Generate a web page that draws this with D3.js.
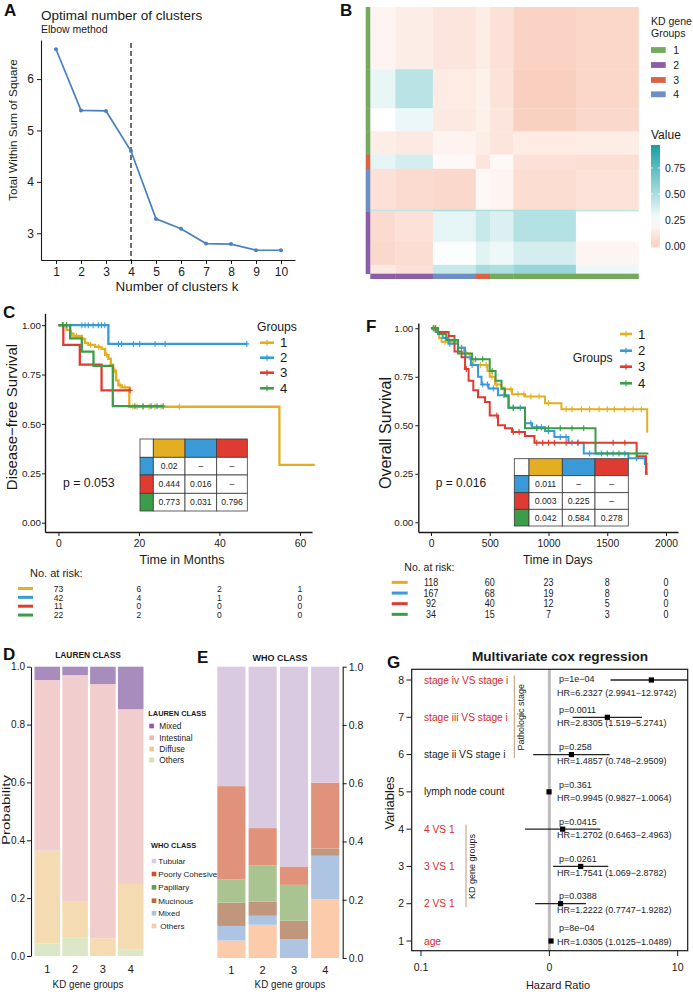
<!DOCTYPE html>
<html>
<head>
<meta charset="utf-8">
<script src="https://cdn.jsdelivr.net/npm/d3@7"></script>
<style>
  body { margin: 0; background: #fff; }
  svg { display: block; font-family: "Liberation Sans", Arial, Helvetica, sans-serif; }
</style>
</head>
<body>
<svg id="fig" width="693" height="992"></svg>
<script>
var INK = '#1a1a1a';

// ---------- A: elbow plot
var kValues = [1, 2, 3, 4, 5, 6, 7, 8, 9, 10];
var wssValues = [6.58, 5.39, 5.38, 4.60, 3.28, 3.09, 2.80, 2.79, 2.67, 2.67];
var bestK = 4;

// ---------- B: consensus heatmap (block means)
var groupNames = ['1', '2', '3', '4'];
var groupColors = ['#74a95f', '#8d5ea8', '#d96444', '#6f8ec4'];
var colGroups = ['2', '2', '4', '3', '1', '1', '1'];
var colSizes = [14, 21, 24, 8, 13, 35, 35];
var rowGroups = ['1', '1', '1', '1', '3', '4', '4', '2', '2', '2'];
var rowSizes = [35, 22, 13, 13, 8, 23, 1, 17, 13, 5];
var blockValues = [
  [0.20, 0.16, 0.12, 0.16, 0.10, 0.03, 0.05],
  [0.32, 0.46, 0.15, 0.18, 0.11, 0.01, 0.05],
  [0.25, 0.31, 0.14, 0.18, 0.12, 0.02, 0.06],
  [0.16, 0.14, 0.19, 0.16, 0.12, 0.15, 0.16],
  [0.33, 0.38, 0.22, 0.12, 0.22, 0.10, 0.09],
  [0.10, 0.07, 0.06, 0.22, 0.20, 0.08, 0.11],
  [0.45, 0.45, 0.50, 0.50, 0.50, 0.50, 0.45],
  [0.07, 0.10, 0.33, 0.42, 0.36, 0.48, 0.25],
  [0.06, 0.08, 0.26, 0.34, 0.30, 0.38, 0.20],
  [0.14, 0.10, 0.42, 0.52, 0.50, 0.56, 0.30]
];
var valueTicks = [0, 0.25, 0.5, 0.75];

// ---------- C: disease-free survival
var survColors = ['#e4ae22', '#3a9ad8', '#e03b31', '#3b9d49'];
var dfsSteps = [
  [[0, 1], [2.0, 0.975], [2.9, 0.958], [3.7, 0.945], [5.8, 0.93], [6.6, 0.91], [7.4, 0.90], [9.1, 0.89], [10.7, 0.88], [11.6, 0.85], [12.4, 0.83], [13.0, 0.80], [13.6, 0.77], [14.3, 0.72], [14.9, 0.695], [15.7, 0.685], [17.6, 0.587], [54.9, 0.293]],
  [[0, 1], [12.4, 0.905]],
  [[0, 1], [1.2, 0.90], [5.3, 0.80], [10.7, 0.67]],
  [[0, 1], [2.9, 0.933], [5.8, 0.866], [8.7, 0.794], [13.5, 0.59]]
];
var dfsEnd = [63.7, 46.8, 17.8, 26];
var dfsCensor = [
  [1, 3.2, 4.5, 8, 10, 12, 14, 15.3, 16.5, 18.5, 19.5, 21, 22.5, 24, 25.5, 30],
  [1.2, 2, 5.8, 6.6, 7.4, 8.6, 9.9, 10.7, 11.5, 14.9, 15.7, 18.6, 20.2, 24, 26.5, 46.8],
  [17.8],
  [1, 2, 19, 21, 23, 24.5, 26]
];
var dfsTicks = [0, 20, 40, 60];
var dfsP = 'p = 0.053';
var dfsPairs = [['0.02', '\u2013', '\u2013'], ['0.444', '0.016', '\u2013'], ['0.773', '0.031', '0.796']];
var dfsRisk = [[73, 6, 2, 1], [42, 4, 1, 0], [11, 0, 0, 0], [22, 2, 0, 0]];

// ---------- F: overall survival
var osSteps = [
  [[0, 1], [40, 0.98], [70, 0.95], [90, 0.93], [230, 0.90], [280, 0.87], [330, 0.84], [360, 0.81], [480, 0.78], [500, 0.75], [545, 0.71], [600, 0.685], [690, 0.66], [800, 0.648], [970, 0.613], [1110, 0.582], [1840, 0.467]],
  [[0, 1], [40, 0.98], [100, 0.95], [150, 0.92], [230, 0.90], [290, 0.85], [340, 0.81], [400, 0.75], [430, 0.71], [490, 0.69], [570, 0.655], [660, 0.59], [800, 0.51], [860, 0.49], [970, 0.47], [1050, 0.44], [1170, 0.41], [1300, 0.355], [1680, 0.33], [1820, 0.30], [1835, 0.25]],
  [[0, 1], [60, 0.98], [150, 0.96], [200, 0.88], [260, 0.85], [290, 0.79], [320, 0.73], [360, 0.68], [400, 0.645], [460, 0.62], [500, 0.55], [570, 0.50], [630, 0.485], [690, 0.465], [800, 0.445], [880, 0.41], [1750, 0.34], [1830, 0.25]],
  [[0, 1], [60, 0.97], [130, 0.94], [230, 0.87], [350, 0.84], [500, 0.78], [550, 0.73], [600, 0.69], [630, 0.65], [660, 0.59], [800, 0.485], [1400, 0.355]]
];
var osEnd = [1845, 1845, 1840, 1850];
var osCensor = [
  [30, 120, 200, 300, 420, 470, 520, 560, 620, 680, 740, 790, 850, 920, 1000, 1150, 1200, 1280, 1350, 1430, 1500, 1560, 1650, 1720, 1790],
  [20, 160, 260, 350, 440, 480, 530, 620, 700, 760, 850, 900, 940, 1000, 1100, 1150, 1200, 1250, 1350, 1450, 1550, 1650, 1750],
  [40, 300, 560, 700, 750, 900, 950, 1000, 1050, 1150, 1250, 1400, 1550, 1650],
  [20, 200, 380, 440, 520, 700, 900, 1000, 1100, 1200, 1300, 1500, 1600, 1750]
];
var osTicks = [0, 500, 1000, 1500, 2000];
var osP = 'p = 0.016';
var osPairs = [['0.011', '\u2013', '\u2013'], ['0.003', '0.225', '\u2013'], ['0.042', '0.584', '0.278']];
var osRisk = [[118, 60, 23, 8, 0], [167, 68, 19, 8, 0], [92, 40, 12, 5, 0], [34, 15, 7, 3, 0]];

// ---------- D: Lauren class proportions (bottom to top)
var laurenClasses = ['Others', 'Diffuse', 'Intestinal', 'Mixed'];
var laurenOthers = [0.044, 0.063, 0.000, 0.023];
var laurenDiffuse = [0.320, 0.127, 0.061, 0.226];
var laurenIntestinal = [0.590, 0.781, 0.879, 0.604];
var laurenMixed = [0.046, 0.029, 0.060, 0.147];

// ---------- E: WHO class proportions (bottom to top)
var whoClasses = ['Others', 'Mixed', 'Mucinous', 'Papillary', 'Poorly Cohesive', 'Tubular'];
var whoOthers = [0.060, 0.114, 0.000, 0.202];
var whoMixed = [0.050, 0.031, 0.065, 0.149];
var whoMucinous = [0.080, 0.048, 0.063, 0.025];
var whoPapillary = [0.080, 0.125, 0.123, 0.000];
var whoPoorly = [0.320, 0.128, 0.063, 0.226];
var whoTubular = [0.410, 0.554, 0.686, 0.398];

// ---------- G: multivariate cox
var coxLabels = ['age', '2 VS 1', '3 VS 1', '4 VS 1', 'lymph node count', 'stage ii VS stage i', 'stage iii VS stage i', 'stage iv VS stage i'];
var coxHR = [1.0305, 1.2222, 1.7541, 1.2702, 0.9945, 1.4857, 2.8305, 6.2327];
var coxLow = [1.0125, 0.7747, 1.069, 0.6463, 0.9827, 0.748, 1.519, 2.9941];
var coxHigh = [1.0489, 1.9282, 2.8782, 2.4963, 1.0064, 2.9509, 5.2741, 12.9742];
var coxP = [0.0008, 0.0388, 0.0261, 0.0415, 0.361, 0.258, 0.0011, 0.0001];
var coxPText = ['8e\u221204', '0.0388', '0.0261', '0.0415', '0.361', '0.258', '0.0011', '1e\u221204'];
var coxBlocks = [{ name: 'KD gene groups', from: 2, to: 4 }, { name: 'Pathologic stage', from: 6, to: 8 }];

// ================= helpers
var svg = d3.select('#fig');

function txt(g, x, y, s, o) {
  o = o || {};
  var t = g.append('text')
    .attr('font-size', o.size || 10)
    .attr('fill', o.fill || INK)
    .attr('text-anchor', o.anchor || 'start')
    .text(s);
  if (o.bold) t.attr('font-weight', 'bold');
  var tr = 'translate(' + x + ',' + y + ')';
  if (o.rot) tr += ' rotate(-90)';
  if (o.sx || o.sy) tr += ' scale(' + (o.sx || 1) + ',' + (o.sy || 1) + ')';
  t.attr('transform', tr);
  return t;
}

function styleAxis(a, size) {
  a.attr('font-family', null).attr('font-size', size);
  a.select('.domain').attr('stroke', INK).attr('stroke-width', 1.1);
  a.selectAll('.tick line').attr('stroke', INK);
  a.selectAll('.tick text').attr('fill', INK);
}

function survAt(steps, t) {
  var s = steps[0][1];
  steps.forEach(function (p) { if (p[0] <= t) s = p[1]; });
  return s;
}

function plus(g, x, y, col, w) {
  g.append('path')
    .attr('d', 'M' + x + ',' + (y - 3) + 'V' + (y + 3) + 'M' + (x - 2.5) + ',' + y + 'H' + (x + 2.5))
    .attr('stroke', col).attr('stroke-width', w || 1.1).attr('fill', 'none');
}

function letter(x, y, s) {
  txt(svg, x, y, s, { size: 17, bold: true, fill: '#111' });
}

// ================= A
(function () {
  var g = svg.append('g');
  var x = d3.scaleLinear().domain([0.4, 10.56]).range([41, 295]);
  var y = d3.scaleLinear().domain([2.48, 6.76]).range([260, 40]);
  g.append('g').attr('transform', 'translate(0,260)')
    .call(d3.axisBottom(x).tickValues(kValues).tickFormat(d3.format('d')).tickSize(4).tickPadding(3).tickSizeOuter(0))
    .call(styleAxis, 12);
  g.append('g').attr('transform', 'translate(41,0)')
    .call(d3.axisLeft(y).tickValues([3, 4, 5, 6]).tickFormat(d3.format('d')).tickSize(4).tickPadding(3).tickSizeOuter(0))
    .call(styleAxis, 12);
  g.append('line').attr('x1', x(bestK)).attr('x2', x(bestK)).attr('y1', 43).attr('y2', 260)
    .attr('stroke', '#222').attr('stroke-width', 1.3).attr('stroke-dasharray', '5,3');
  var line = d3.line().x(function (d, i) { return x(kValues[i]); }).y(function (d) { return y(d); });
  g.append('path').attr('d', line(wssValues)).attr('fill', 'none').attr('stroke', '#4a80bf').attr('stroke-width', 1.7);
  g.selectAll('circle').data(wssValues).enter().append('circle')
    .attr('cx', function (d, i) { return x(kValues[i]); }).attr('cy', function (d) { return y(d); })
    .attr('r', 2).attr('fill', '#4a80bf');
  txt(g, 41, 19.5, 'Optimal number of clusters', { size: 13.5 });
  txt(g, 41, 32.5, 'Elbow method', { size: 10.5 });
  txt(g, 16.5, 130, 'Total Within Sum of Square', { size: 11.7, rot: true, anchor: 'middle' });
  txt(g, 177, 291, 'Number of clusters k', { size: 13.4, anchor: 'middle' });
  letter(4, 16, 'A');
})();

// ================= B
(function () {
  var g = svg.append('g');
  var total = d3.sum(colSizes);
  var x = d3.scaleLinear().domain([0, total]).range([370.3, 638.5]);
  var y = d3.scaleLinear().domain([0, total]).range([7, 273.7]);
  var color = d3.scaleLinear().domain([0, 0.25, 0.97]).range(['#f9cdbc', '#ffffff', '#13a0a6']);
  var gcol = d3.scaleOrdinal().domain(groupNames).range(groupColors);
  var colStart = [0], rowStart = [0];
  colSizes.forEach(function (n, i) { colStart.push(colStart[i] + n); });
  rowSizes.forEach(function (n, i) { rowStart.push(rowStart[i] + n); });

  var cells = [];
  blockValues.forEach(function (row, i) {
    row.forEach(function (v, j) { cells.push({ r: i, c: j, v: v }); });
  });
  g.selectAll('rect.cell').data(cells).enter().append('rect').attr('class', 'cell')
    .attr('x', function (d) { return x(colStart[d.c]); })
    .attr('y', function (d) { return y(rowStart[d.r]); })
    .attr('width', function (d) { return x(colStart[d.c + 1]) - x(colStart[d.c]) + 0.3; })
    .attr('height', function (d) { return y(rowStart[d.r + 1]) - y(rowStart[d.r]) + 0.3; })
    .attr('fill', function (d) { return color(d.v); });

  // annotation bars
  rowGroups.forEach(function (gr, i) {
    g.append('rect').attr('x', 365.7).attr('width', 4.6)
      .attr('y', y(rowStart[i])).attr('height', y(rowStart[i + 1]) - y(rowStart[i]) + 0.3)
      .attr('fill', gcol(gr));
  });
  colGroups.forEach(function (gr, i) {
    g.append('rect').attr('y', 273.7).attr('height', 5.3)
      .attr('x', x(colStart[i])).attr('width', x(colStart[i + 1]) - x(colStart[i]) + 0.3)
      .attr('fill', gcol(gr));
  });

  // legend
  txt(g, 651, 25.4, 'KD gene', { size: 10.5 });
  txt(g, 651, 37, 'Groups', { size: 10.5 });
  var ky = [50, 65, 80, 94.3];
  groupNames.forEach(function (n, i) {
    g.append('rect').attr('x', 651).attr('y', ky[i] - 2.9).attr('width', 14.7).attr('height', 5.8).attr('fill', groupColors[i]);
    txt(g, 673.3, ky[i] + 3.7, n, { size: 10.5 });
  });
  txt(g, 651, 139, 'Value', { size: 12 });
  var yc = d3.scaleLinear().domain([0, 0.97]).range([246, 145]);
  var grad = svg.append('defs').append('linearGradient').attr('id', 'vgrad')
    .attr('x1', 0).attr('y1', 1).attr('x2', 0).attr('y2', 0);
  d3.range(0, 1.0001, 0.1).forEach(function (f) {
    grad.append('stop').attr('offset', f).attr('stop-color', color(f * 0.97));
  });
  g.append('rect').attr('x', 651).attr('y', yc(0.97)).attr('width', 9).attr('height', yc(0) - yc(0.97) + 1.5)
    .attr('fill', 'url(#vgrad)');
  valueTicks.forEach(function (v) {
    g.append('path').attr('d', 'M651,' + yc(v) + 'h2M658,' + yc(v) + 'h2').attr('stroke', '#fff').attr('stroke-width', 0.8);
    txt(g, 665, yc(v) + 3.7, d3.format('.2f')(v), { size: 10.5 });
  });
  letter(340, 16, 'B');
})();

// ================= KM helpers
function drawKM(g, c) {
  g.append('g').attr('transform', 'translate(' + c.x.range()[0] + ',0)')
    .call(d3.axisLeft(c.y).tickValues([0, 0.25, 0.5, 0.75, 1]).tickFormat(d3.format('.2f')).tickSize(3).tickPadding(c.ypad).tickSizeOuter(0))
    .call(styleAxis, 9.8);
  g.append('g').attr('transform', 'translate(0,' + c.y.range()[0] + ')')
    .call(d3.axisBottom(c.x).tickValues(c.ticks).tickFormat(d3.format('d')).tickSize(4).tickPadding(4).tickSizeOuter(0))
    .call(styleAxis, 10.3);
  g.selectAll('.domain').attr('stroke-width', 1.4);
  var line = d3.line().x(function (d) { return c.x(d[0]); }).y(function (d) { return c.y(d[1]); }).curve(d3.curveStepAfter);
  c.steps.forEach(function (st, i) {
    var pts = st.concat([[c.ends[i], st[st.length - 1][1]]]);
    g.append('path').attr('d', line(pts)).attr('fill', 'none')
      .attr('stroke', survColors[i]).attr('stroke-width', c.lw);
    c.censors[i].forEach(function (t) {
      plus(g, c.x(t), c.y(survAt(st, t)), survColors[i]);
    });
  });
}

function drawPairs(g, xe, ye, vals, size) {
  for (var r = 0; r < 4; r++) {
    for (var k = 0; k < 4; k++) {
      var fill = '#fff';
      if (r === 0 && k > 0) fill = survColors[k - 1];
      if (k === 0 && r > 0) fill = survColors[r];
      g.append('rect').attr('x', xe[k]).attr('y', ye[r])
        .attr('width', xe[k + 1] - xe[k]).attr('height', ye[r + 1] - ye[r])
        .attr('fill', fill).attr('stroke', '#3a3a3a').attr('stroke-width', 0.8);
      if (r > 0 && k > 0) {
        txt(g, (xe[k] + xe[k + 1]) / 2, (ye[r] + ye[r + 1]) / 2 + size * 0.36, vals[r - 1][k - 1], { size: size, anchor: 'middle' });
      }
    }
  }
}

function drawRisk(g, c) {
  txt(g, c.titleX, c.titleY, 'No. at risk:', { size: c.titleSize });
  c.rows.forEach(function (row, i) {
    var cy = c.y0 + i * c.dy;
    g.append('line').attr('x1', c.lx[0]).attr('x2', c.lx[1]).attr('y1', cy).attr('y2', cy)
      .attr('stroke', survColors[i]).attr('stroke-width', 3);
    row.forEach(function (n, j) {
      txt(g, c.x(c.ticks[j]), cy + c.size * 0.36, String(n), { size: c.size, anchor: 'middle', sx: c.sx });
    });
  });
}

function drawGroupLegend(g, c) {
  txt(g, c.titleX, c.titleY, 'Groups', { size: 12.2 });
  groupNames.forEach(function (n, i) {
    var cy = c.ys[i];
    g.append('line').attr('x1', c.lx[0]).attr('x2', c.lx[1]).attr('y1', cy).attr('y2', cy)
      .attr('stroke', survColors[i]).attr('stroke-width', 2.6);
    plus(g, (c.lx[0] + c.lx[1]) / 2, cy, survColors[i], 1.2);
    txt(g, c.nx, cy + 4.7, n, { size: 13.2 });
  });
}

// ================= C
(function () {
  var g = svg.append('g');
  var x = d3.scaleLinear().domain([-3.35, 63]).range([45, 312]);
  var y = d3.scaleLinear().domain([-0.047, 1.06]).range([532, 313.3]);
  drawKM(g, { x: x, y: y, ticks: dfsTicks, steps: dfsSteps, ends: dfsEnd, censors: dfsCensor, lw: 2.3, ypad: 1 });
  drawGroupLegend(g, { titleX: 257, titleY: 331, ys: [342.7, 357.7, 372.7, 388.3], lx: [260, 274], nx: 280 });
  txt(g, 63, 487.4, dfsP, { size: 12.3 });
  drawPairs(g, [140, 153.3, 185, 216.7, 247.3], [439, 457.3, 475, 493.3, 511], dfsPairs, 8.6);
  txt(g, 16.5, 417, 'Disease\u2212free Survival', { size: 15, rot: true, anchor: 'middle' });
  txt(g, 182, 564, 'Time in Months', { size: 12.5, anchor: 'middle' });
  drawRisk(g, { titleX: 30, titleY: 577, titleSize: 11, rows: dfsRisk, ticks: dfsTicks, x: x, y0: 588.5, dy: 8.85, lx: [18, 33], size: 9, sx: 0.95 });
  letter(3, 318, 'C');
})();

// ================= F
(function () {
  var g = svg.append('g');
  var x = d3.scaleLinear().domain([-108, 2102]).range([418.3, 678]);
  var y = d3.scaleLinear().domain([-0.05, 1.027]).range([532, 323]);
  drawKM(g, { x: x, y: y, ticks: osTicks, steps: osSteps, ends: osEnd, censors: osCensor, lw: 2, ypad: 2 });
  drawGroupLegend(g, { titleX: 572.7, titleY: 362, ys: [334, 350.7, 366.7, 383.3], lx: [620, 632], nx: 638 });
  txt(g, 435.7, 487, osP, { size: 12 });
  drawPairs(g, [514.3, 529, 562.3, 595, 628.3], [458.7, 475.7, 492.7, 509.3, 526], osPairs, 8.7);
  txt(g, 390.5, 433, 'Overall Survival', { size: 16, rot: true, anchor: 'middle' });
  txt(g, 557.7, 563.5, 'Time in Days', { size: 12, anchor: 'middle' });
  drawRisk(g, { titleX: 404.3, titleY: 571, titleSize: 10.5, rows: osRisk, ticks: osTicks, x: x, y0: 582.4, dy: 10.65, lx: [391.7, 407.7], size: 10.5, sx: 0.85 });
  letter(366, 332, 'F');
})();

// ================= D / E stacked bars
var laurenBar = { Others: '#dbe7c6', Diffuse: '#f5dbb2', Intestinal: '#f2cdcd', Mixed: '#a88cbe' };
var laurenKey = { Others: '#cfe1b0', Diffuse: '#f2c88a', Intestinal: '#f0b4b4', Mixed: '#8d5aa5' };
var whoBar = { Others: '#fcccaa', Mixed: '#adc4e2', Mucinous: '#c0977d', Papillary: '#a9c490', 'Poorly Cohesive': '#e0937a', Tubular: '#d9c9e1' };
var whoKey = { Others: '#fcc9a0', Mixed: '#a9c3e6', Mucinous: '#b36a3c', Papillary: '#59a14f', 'Poorly Cohesive': '#d6492f', Tubular: '#dccbe6' };

function drawStack(g, keys, rows, x, y, fills) {
  var series = d3.stack().keys(keys)(rows);
  series.forEach(function (s) {
    g.selectAll(null).data(s).enter().append('rect')
      .attr('x', function (d) { return x(d.data.group); })
      .attr('width', x.bandwidth())
      .attr('y', function (d) { return y(d[1]); })
      .attr('height', function (d) { return Math.max(0, y(d[0]) - y(d[1])); })
      .attr('fill', fills[s.key]);
  });
}

(function () {
  var g = svg.append('g');
  var rows = groupNames.map(function (n, i) {
    return { group: n, Others: laurenOthers[i], Diffuse: laurenDiffuse[i], Intestinal: laurenIntestinal[i], Mixed: laurenMixed[i] };
  });
  var x = d3.scaleBand().domain(groupNames).range([34.5, 143.5]).paddingInner(0.08);
  var y = d3.scaleLinear().domain([0, 1]).range([956, 666.7]);
  drawStack(g, laurenClasses, rows, x, y, laurenBar);
  g.append('g').attr('transform', 'translate(31,0)')
    .call(d3.axisLeft(y).tickValues([0, 0.2, 0.4, 0.6, 0.8, 1]).tickFormat(d3.format('.1f')).tickSize(4).tickPadding(2).tickSizeOuter(0))
    .call(styleAxis, 10);
  groupNames.forEach(function (n) {
    txt(g, x(n) + x.bandwidth() / 2, 972.5, n, { size: 11, anchor: 'middle' });
  });
  txt(g, 88, 987.5, 'KD gene groups', { size: 9.8, anchor: 'middle', sy: 1.2 });
  txt(g, 88, 658.3, 'LAUREN CLASS', { size: 8.4, anchor: 'middle', bold: true });
  txt(g, 9.6, 810, 'Probability', { size: 10, rot: true, anchor: 'middle', sx: 1.5 });

  // legends
  txt(g, 148.3, 716, 'LAUREN CLASS', { size: 7.4, bold: true });
  var ly = [726, 737.7, 749, 760];
  laurenClasses.slice().reverse().forEach(function (k, i) {
    g.append('rect').attr('x', 149.3).attr('y', ly[i] - 2.3).attr('width', 4.6).attr('height', 4.6).attr('fill', laurenKey[k]);
    txt(g, 159.3, ly[i] + 3, k, { size: 8.3 });
  });
  txt(g, 151, 847.7, 'WHO CLASS', { size: 7.4, bold: true });
  var wy = [861, 874, 887.3, 900.7, 913.3, 926];
  whoClasses.slice().reverse().forEach(function (k, i) {
    g.append('rect').attr('x', 151.7).attr('y', wy[i] - 2.3).attr('width', 4.6).attr('height', 4.6).attr('fill', whoKey[k]);
    txt(g, k === 'Others' ? 160.3 : 158.3, wy[i] + 3, k, { size: 8.1 });
  });
  letter(3, 660, 'D');
})();

(function () {
  var g = svg.append('g');
  var rows = groupNames.map(function (n, i) {
    return {
      group: n, Others: whoOthers[i], Mixed: whoMixed[i], Mucinous: whoMucinous[i],
      Papillary: whoPapillary[i], 'Poorly Cohesive': whoPoorly[i], Tubular: whoTubular[i]
    };
  });
  var x = d3.scaleBand().domain(groupNames).range([217.3, 339.3]).paddingInner(0.1);
  var y = d3.scaleLinear().domain([0, 1]).range([958, 666.7]);
  drawStack(g, whoClasses, rows, x, y, whoBar);
  g.append('g').attr('transform', 'translate(342.7,0)')
    .call(d3.axisRight(y).tickValues([0, 0.2, 0.4, 0.6, 0.8, 1]).tickFormat(d3.format('.1f')).tickSize(4).tickPadding(2).tickSizeOuter(0))
    .call(styleAxis, 10.5);
  groupNames.forEach(function (n) {
    txt(g, x(n) + x.bandwidth() / 2, 974, n, { size: 11, anchor: 'middle' });
  });
  txt(g, 290, 987.5, 'KD gene groups', { size: 9.8, anchor: 'middle', sy: 1.2 });
  txt(g, 280, 660.5, 'WHO CLASS', { size: 9, anchor: 'middle', bold: true });
  letter(197, 663, 'E');
})();

// ================= G
(function () {
  var g = svg.append('g');
  var box = { x0: 411.7, x1: 687.7, y0: 669.3, y1: 950.7 };
  var x = d3.scaleLog().domain([0.1, 10]).range([421, 677.7]);
  var y = d3.scaleLinear().domain([1, 8]).range([941, 680]);
  var rows = d3.range(coxLabels.length);

  g.append('line').attr('x1', x(1)).attr('x2', x(1)).attr('y1', box.y0).attr('y2', box.y1)
    .attr('stroke', '#bdbdbd').attr('stroke-width', 3);
  g.append('rect').attr('x', box.x0).attr('y', box.y0).attr('width', box.x1 - box.x0).attr('height', box.y1 - box.y0)
    .attr('fill', 'none').attr('stroke', INK).attr('stroke-width', 1.2);

  rows.forEach(function (i) {
    var v = i + 1, cy = y(v);
    g.append('line').attr('x1', 406.5).attr('x2', box.x0).attr('y1', cy).attr('y2', cy).attr('stroke', INK);
    txt(g, 404, cy + 3.7, String(v), { size: 10.5, anchor: 'end' });
    var x1 = Math.max(x(coxLow[i]), box.x0), x2 = Math.min(x(coxHigh[i]), box.x1);
    g.append('line').attr('x1', x1).attr('x2', x2).attr('y1', cy).attr('y2', cy)
      .attr('stroke', '#222').attr('stroke-width', 1.3);
    g.append('rect').attr('x', x(coxHR[i]) - 2.6).attr('y', cy - 2.6).attr('width', 5.2).attr('height', 5.2).attr('fill', '#000');
    var red = coxP[i] < 0.05;
    txt(g, 424, cy + 3.6, coxLabels[i], { size: 10.2, fill: red ? '#d42a2a' : INK });
    var pc = Math.max(cy - 7.5, 679);
    pc = Math.min(pc, 941.7 - 13.5);
    txt(g, 559, pc + 3.2, 'p=' + coxPText[i], { size: 9 });
    txt(g, 557, pc + 13.5 + 3.2, 'HR=' + coxHR[i] + ' (' + coxLow[i] + '\u2212' + coxHigh[i] + ')', { size: 9 });
  });

  [0.1, 1, 10].forEach(function (v, i) {
    g.append('line').attr('x1', x(v)).attr('x2', x(v)).attr('y1', box.y1).attr('y2', box.y1 + 5.3).attr('stroke', INK);
    txt(g, x(v), 970.5, ['0.1', '0', '10'][i], { size: 10.5, anchor: 'middle' });
  });

  var bx = { 'KD gene groups': 466, 'Pathologic stage': 514.3 };
  coxBlocks.forEach(function (b) {
    var xx = bx[b.name];
    g.append('line').attr('x1', xx).attr('x2', xx).attr('y1', y(b.to) - 4.5).attr('y2', y(b.from) + 3.5)
      .attr('stroke', '#c49a74').attr('stroke-width', 1);
    txt(g, xx + 9.3, (y(b.to) + y(b.from)) / 2, b.name, { size: 9, rot: true, anchor: 'middle' });
  });

  txt(g, 560, 661.4, 'Multivariate cox regression', { size: 13.6, anchor: 'middle', bold: true });
  txt(g, 394.2, 803, 'Variables', { size: 13, rot: true, anchor: 'middle' });
  txt(g, 558, 988.5, 'Hazard Ratio', { size: 11, anchor: 'middle' });
  letter(387, 668, 'G');
})();
</script>
</body>
</html>
